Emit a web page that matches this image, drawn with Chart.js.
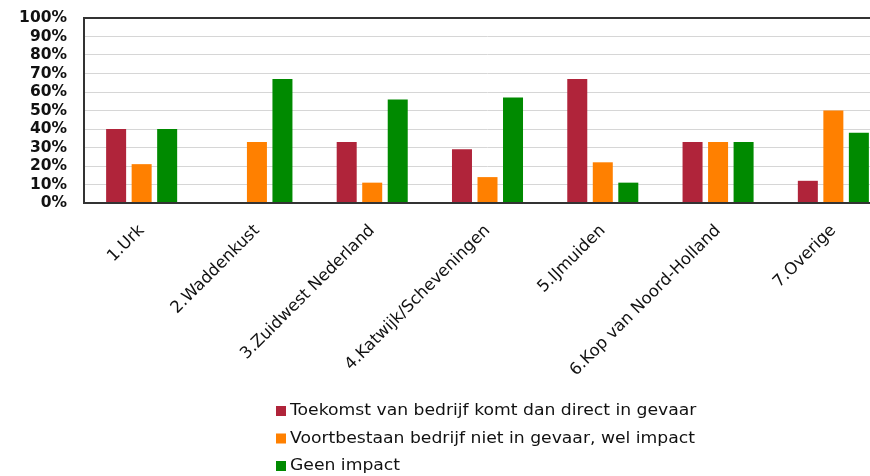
<!DOCTYPE html>
<html>
<head>
<meta charset="utf-8">
<script src="https://cdn.jsdelivr.net/npm/chart.js@4"></script>
<style>
  html, body { margin: 0; padding: 0; background: #fff; overflow: hidden; }
  #wrap { width: 892px; height: 476px; }
</style>
</head>
<body>
<div id="wrap"><canvas id="chart" width="892" height="476"></canvas></div>
<script>
// categorieen (regio's)
const regions = ['1.Urk', '2.Waddenkust', '3.Zuidwest Nederland', '4.Katwijk/Scheveningen', '5.IJmuiden', '6.Kop van Noord-Holland', '7.Overige'];

// percentages per antwoord
const directGevaar = [40, 0, 33, 29, 67, 33, 12];
const welImpact = [21, 33, 11, 14, 22, 33, 50];
const geenImpact = [40, 67, 56, 57, 11, 33, 38];

const seriesNames = ['Toekomst van bedrijf komt dan direct in gevaar', 'Voortbestaan bedrijf niet in gevaar, wel impact', 'Geen impact'];
const seriesColors = ['#B0243A', '#FF8000', '#008A00'];

const FONT = '"DejaVu Sans", Verdana, sans-serif';

// kader rond het plotgebied
const frameBox = {
    id: 'frameBox',
    afterDatasetsDraw(chart) {
        const { ctx, chartArea: a } = chart;
        ctx.save();
        ctx.strokeStyle = '#333';
        ctx.lineWidth = 2;
        ctx.strokeRect(a.left, a.top, a.right - a.left, a.bottom - a.top);
        ctx.restore();
    }
};

// legenda onder elkaar, zoals in het origineel (iets breder, Verdana-achtig)
const stackedLegend = {
    id: 'stackedLegend',
    afterDraw(chart) {
        const ctx = chart.ctx;
        ctx.save();
        ctx.font = '16px ' + FONT;
        ctx.textBaseline = 'middle';
        chart.data.datasets.forEach((ds, i) => {
            const y = 411 + i * 27.5;
            ctx.fillStyle = ds.backgroundColor;
            ctx.fillRect(276, y - 5, 10, 10);
            ctx.save();
            ctx.translate(290, y);
            ctx.scale(1.075, 1);
            ctx.fillStyle = '#111';
            ctx.fillText(ds.label, 0, 0);
            ctx.restore();
        });
        ctx.restore();
    }
};

const ctx = document.getElementById('chart').getContext('2d');
new Chart(ctx, {
    type: 'bar',
    data: {
        labels: regions,
        datasets: [
            { label: seriesNames[0], data: directGevaar, backgroundColor: seriesColors[0] },
            { label: seriesNames[1], data: welImpact, backgroundColor: seriesColors[1] },
            { label: seriesNames[2], data: geenImpact, backgroundColor: seriesColors[2] }
        ]
    },
    options: {
        responsive: false,
        animation: false,
        layout: { padding: { top: 18, right: 1, left: 0, bottom: 0 } },
        datasets: {
            bar: { categoryPercentage: 0.664, barPercentage: 0.784 }
        },
        scales: {
            x: {
                grid: { display: false, drawTicks: false },
                border: { display: false },
                ticks: {
                    color: '#111',
                    font: { family: FONT, size: 16.5 },
                    minRotation: 45,
                    maxRotation: 45,
                    padding: 18,
                    autoSkip: false
                },
                afterFit(scale) { scale.height = 273; }
            },
            y: {
                min: 0,
                max: 100,
                grid: { color: '#d6d6d6', lineWidth: 1, drawTicks: true, tickLength: 17, tickColor: 'rgba(0,0,0,0)' },
                border: { display: false },
                ticks: {
                    stepSize: 10,
                    autoSkip: false,
                    color: '#111',
                    padding: 0,
                    font: { family: FONT, size: 15.5, weight: 'bold', lineHeight: 1 },
                    callback: v => v + '%'
                },
                afterFit(scale) { scale.width = 84; }
            }
        },
        plugins: {
            legend: { display: false },
            tooltip: { enabled: false }
        }
    },
    plugins: [frameBox, stackedLegend]
});
</script>
</body>
</html>
